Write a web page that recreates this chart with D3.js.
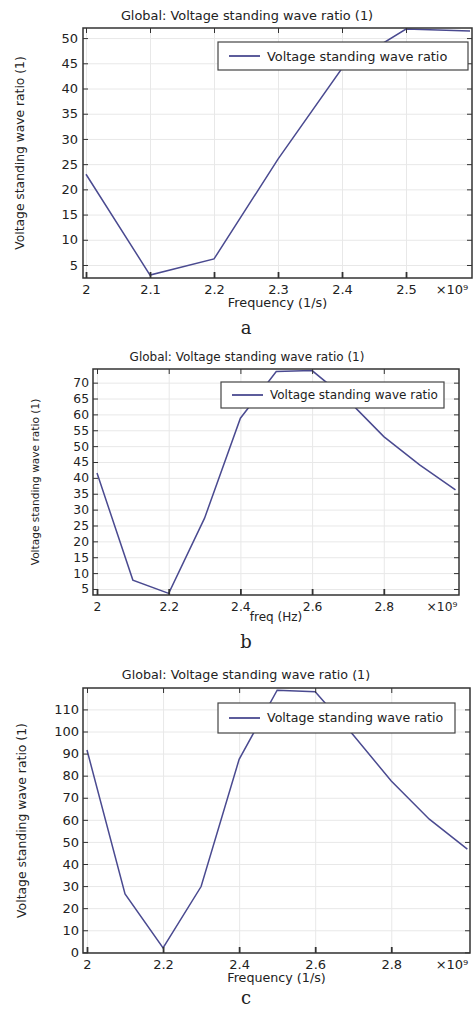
<!DOCTYPE html>
<html>
<head>
<meta charset="utf-8">
<script src="https://cdn.jsdelivr.net/npm/d3@7"></script>
<style>
  html, body { margin: 0; padding: 0; background: #fff; }
  svg { display: block; }
  text { font-family: "DejaVu Sans", sans-serif; fill: #222; }
</style>
</head>
<body>
<svg id="fig" width="475" height="1010"></svg>
<script>
// frequencies in units of 1e9 (the axes show "x10^9")
var freqA = [2.0, 2.1, 2.2, 2.3, 2.4, 2.5, 2.6];
var vswrA = [23.0, 3.0, 6.2, 26.0, 44.0, 51.8, 51.4];

var freqB = [2.0, 2.1, 2.2, 2.3, 2.4, 2.5, 2.6, 2.7, 2.8, 2.9, 3.0];
var vswrB = [41.5, 7.8, 3.6, 27.3, 58.8, 73.5, 73.8, 64.5, 53.0, 44.1, 36.2];

var freqC = [2.0, 2.1, 2.2, 2.3, 2.4, 2.5, 2.6, 2.7, 2.8, 2.9, 3.0];
var vswrC = [91.6, 26.5, 2.0, 29.8, 87.4, 118.7, 118.0, 98.4, 77.6, 60.3, 46.7];

var xTicksA = [2.0, 2.1, 2.2, 2.3, 2.4, 2.5];
var xTicksBC = [2.0, 2.2, 2.4, 2.6, 2.8];
var yTicksA = d3.range(5, 51, 5);
var yTicksB = d3.range(5, 71, 5);
var yTicksC = d3.range(0, 111, 10);

var titleText = "Global: Voltage standing wave ratio (1)";
var yLabelText = "Voltage standing wave ratio (1)";
var legendText = "Voltage standing wave ratio";

var LINE = "#4a4a90";
var FRAME = "#333";
var GRID = "#e8e8e8";

var svg = d3.select("#fig");

// one COMSOL style panel
function drawPanel(p) {
  var g = svg.append("g");
  var x = d3.scaleLinear().domain(p.xDom).range([p.left, p.right]);
  var y = d3.scaleLinear().domain(p.yDom).range([p.bottom, p.top]);
  var w = p.right - p.left, h = p.bottom - p.top;
  var fmt = function (d) { return String(+d.toFixed(1)); };

  // grid
  var grid = g.append("g");
  grid.append("g").attr("transform", "translate(0," + p.bottom + ")")
    .call(d3.axisBottom(x).tickValues(p.xTicks).tickSize(-h).tickFormat(""));
  grid.append("g").attr("transform", "translate(" + p.left + ",0)")
    .call(d3.axisLeft(y).tickValues(p.yTicks).tickSize(-w).tickFormat(""));
  grid.selectAll(".domain").remove();
  grid.selectAll("line").attr("stroke", GRID);

  var clipId = "clip" + p.name;
  g.append("clipPath").attr("id", clipId).append("rect")
    .attr("x", p.left).attr("y", p.top).attr("width", w).attr("height", h);

  var line = d3.line().x(function (d) { return x(d[0]); }).y(function (d) { return y(d[1]); });
  g.append("path")
    .datum(d3.zip(p.freq, p.vswr))
    .attr("clip-path", "url(#" + clipId + ")")
    .attr("d", line)
    .attr("fill", "none")
    .attr("stroke", LINE)
    .attr("stroke-width", 1.5);

  // axes with inward ticks
  var axes = g.append("g");
  axes.append("g").attr("class", "xb").attr("transform", "translate(0," + p.bottom + ")")
    .call(d3.axisBottom(x).tickValues(p.xTicks).tickSize(-6).tickPadding(7).tickFormat(fmt));
  axes.append("g").attr("transform", "translate(" + p.left + ",0)")
    .call(d3.axisLeft(y).tickValues(p.yTicks).tickSize(-5).tickPadding(p.yPad).tickFormat(fmt));
  axes.append("g").attr("transform", "translate(0," + p.top + ")")
    .call(d3.axisTop(x).tickValues(p.xTicks).tickSize(-5).tickFormat(""));
  axes.append("g").attr("transform", "translate(" + p.right + ",0)")
    .call(d3.axisRight(y).tickValues(p.yTicks).tickSize(-5).tickFormat(""));
  axes.selectAll(".domain").remove();
  axes.selectAll(".tick line").attr("stroke", FRAME);
  axes.selectAll(".xb .tick line").attr("stroke-width", 1.8);
  axes.selectAll(".tick text").attr("font-family", "DejaVu Sans, sans-serif")
    .attr("font-size", p.tickFs).attr("fill", "#222");

  g.append("rect")
    .attr("x", p.left).attr("y", p.top).attr("width", w).attr("height", h)
    .attr("fill", "none").attr("stroke", FRAME).attr("stroke-width", 1.5);

  // exponent
  g.append("text").attr("x", p.expX).attr("y", p.bottom + 7)
    .attr("text-anchor", "middle").attr("dy", "0.71em")
    .attr("font-size", p.tickFs).text("\u00d710\u2079");

  // titles
  g.append("text").attr("x", p.titleX).attr("y", p.titleY)
    .attr("text-anchor", "middle").attr("dy", "0.35em")
    .attr("font-size", p.titleFs).text(titleText);
  g.append("text").attr("x", (p.left + p.right) / 2).attr("y", p.xLabY)
    .attr("text-anchor", "middle").attr("dy", "0.35em")
    .attr("font-size", p.xLabFs).text(p.xLabel);
  g.append("text")
    .attr("transform", "translate(" + p.yLabX + "," + (p.top + p.bottom) / 2 + ") rotate(-90)")
    .attr("text-anchor", "middle").attr("dy", "0.35em")
    .attr("font-size", p.yLabFs).text(yLabelText);

  // legend (opaque, hides the line under it)
  var lg = g.append("g");
  lg.append("rect").attr("x", p.leg[0]).attr("y", p.leg[1])
    .attr("width", p.leg[2] - p.leg[0]).attr("height", p.leg[3] - p.leg[1])
    .attr("fill", "#fff").attr("stroke", "#444").attr("stroke-width", 1.2);
  var ly = (p.leg[1] + p.leg[3]) / 2;
  lg.append("line").attr("x1", p.leg[0] + 11).attr("x2", p.leg[0] + 42)
    .attr("y1", ly).attr("y2", ly).attr("stroke", LINE).attr("stroke-width", 1.8);
  lg.append("text").attr("x", p.leg[0] + 49).attr("y", ly).attr("dy", "0.35em")
    .attr("font-size", p.legFs).text(legendText);

  // caption letter
  svg.append("text").attr("x", 246).attr("y", p.capY).attr("dy", "0.35em")
    .attr("text-anchor", "middle")
    .style("font-family", "'DejaVu Serif', 'Liberation Serif', serif")
    .attr("font-size", 18).text(p.name);
}

drawPanel({
  name: "a", freq: freqA, vswr: vswrA, xTicks: xTicksA, yTicks: yTicksA,
  xDom: [1.9953, 2.6031], yDom: [2.42, 52.0],
  left: 83, right: 472, top: 28, bottom: 278,
  titleX: 247, titleY: 15, xLabel: "Frequency (1/s)", xLabY: 303, yLabX: 20,
  expX: 452, leg: [218, 42, 468, 70], capY: 328, yPad: 5,
  tickFs: 13, titleFs: 12.9, xLabFs: 12.8, yLabFs: 12.3, legFs: 12.9
});
drawPanel({
  name: "b", freq: freqB, vswr: vswrB, xTicks: xTicksBC, yTicks: yTicksB,
  xDom: [1.9888, 3.0098], yDom: [3.1, 74.3],
  left: 93, right: 459, top: 369, bottom: 595,
  titleX: 247, titleY: 357, xLabel: "freq (Hz)", xLabY: 617, yLabX: 35,
  expX: 442, leg: [221, 382, 444, 408], capY: 642, yPad: 4,
  tickFs: 12.3, titleFs: 12, xLabFs: 12, yLabFs: 10.6, legFs: 12
});
drawPanel({
  name: "c", freq: freqC, vswr: vswrC, xTicks: xTicksBC, yTicks: yTicksC,
  xDom: [1.9895, 3.007], yDom: [-0.3, 119.7],
  left: 83, right: 470, top: 688, bottom: 953,
  titleX: 246, titleY: 675, xLabel: "Frequency (1/s)", xLabY: 978, yLabX: 22,
  expX: 452, leg: [218, 703, 455, 733], capY: 998, yPad: 4,
  tickFs: 13, titleFs: 12.7, xLabFs: 12.7, yLabFs: 12.4, legFs: 12.6
});
</script>
</body>
</html>
